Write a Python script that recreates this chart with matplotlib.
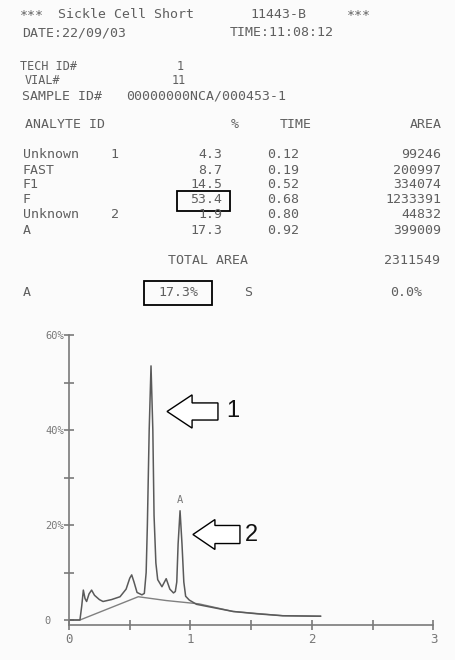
import matplotlib
matplotlib.use("Agg")
import matplotlib.pyplot as plt
from matplotlib.patches import Rectangle, FancyArrow

# ---------------- data ----------------
header_title = "*** Sickle Cell Short  11443-B ***"
run_date = "DATE:22/09/03"
run_time = "TIME:11:08:12"
tech_id = "1"
vial = "11"
sample_id = "00000000NCA/000453-1"

analyte_ids = ["Unknown    1", "FAST", "F1", "F", "Unknown    2", "A"]
pct_values = ["4.3", "8.7", "14.5", "53.4", "1.9", "17.3"]
time_values = ["0.12", "0.19", "0.52", "0.68", "0.80", "0.92"]
area_values = ["99246", "200997", "334074", "1233391", "44832", "399009"]
total_area = "2311549"
a_pct = "17.3%"
s_pct = "0.0%"

# chromatogram trace (retention time in min, % of full scale)
trace_time = [0.00, 0.09, 0.105, 0.118, 0.132, 0.145, 0.165, 0.186, 0.21, 0.25,
              0.28, 0.35, 0.42, 0.47, 0.50, 0.516, 0.535, 0.56, 0.60, 0.62,
              0.635, 0.645, 0.66, 0.675, 0.69, 0.70, 0.715, 0.73, 0.765, 0.80,
              0.83, 0.86, 0.875, 0.887, 0.898, 0.914, 0.93, 0.945, 0.96, 0.99,
              1.05, 1.15, 1.35, 1.55, 1.76, 2.07]
trace_pct = [0.0, 0.0, 3.0, 6.3, 4.5, 3.9, 5.5, 6.3, 5.2, 4.3,
             3.9, 4.3, 4.9, 6.5, 8.8, 9.5, 8.0, 5.8, 5.3, 5.6,
             10.0, 20.0, 40.0, 53.5, 40.0, 22.0, 12.0, 8.5, 7.0, 8.7,
             6.5, 5.7, 6.0, 8.0, 16.0, 23.0, 16.0, 8.0, 5.0, 4.2,
             3.3, 2.8, 1.8, 1.3, 0.9, 0.8]
# integration baseline
base_time = [0.00, 0.09, 0.57, 0.80, 1.07, 1.35, 1.76, 2.07]
base_pct = [0.0, 0.0, 4.9, 4.1, 3.4, 1.8, 0.9, 0.8]

ytick_major = [0, 20, 40, 60]
ytick_labels = ["0  ", "20%", "40%", "60%"]
ytick_minor = [10, 30, 50]
xtick_major = [0, 1, 2, 3]
xtick_labels = ["0", "1", "2", "3"]
xtick_minor = [0.5, 1.5, 2.5]

# ---------------- figure ----------------
W, H = 456, 660
fig = plt.figure(figsize=(W / 100, H / 100), dpi=100)
fig.patch.set_facecolor("#fbfbfb")

MONO = "DejaVu Sans Mono"
TXT = "#5f5f5f"
FS = 9.5


def T(x, y, s, ha="left", fs=FS, color=TXT):
    fig.text(x / W, 1 - y / H, s, ha=ha, va="center", family=MONO,
             fontsize=fs, color=color)


T(20, 15, "***")
T(58, 15, "Sickle Cell Short")
T(250, 15, "11443-B")
T(347, 15, "***")
T(22, 33, run_date)
T(230, 33, run_time)

T(20, 66, "TECH ID#", fs=8.5)
T(180, 66, tech_id, ha="center", fs=8.5)
T(25, 81, "VIAL#", fs=8.5)
T(179, 81, vial, ha="center", fs=8.5)
T(22, 96, "SAMPLE ID#")
T(126, 96, sample_id)

T(25, 125, "ANALYTE ID")
T(235, 125, "%", ha="center")
T(296, 125, "TIME", ha="center")
T(442, 125, "AREA", ha="right")

row_y = [155, 170, 185, 200, 215, 230]
for yy, name, p, t, a in zip(row_y, analyte_ids, pct_values, time_values, area_values):
    T(23, yy, name)
    T(222, yy, p, ha="right")
    T(283, yy, t, ha="center")
    T(441, yy, a, ha="right")

T(208, 260, "TOTAL AREA", ha="center")
T(440, 260, total_area, ha="right")

T(23, 293, "A")
T(178, 293, a_pct, ha="center")
T(248, 293, "S", ha="center")
T(422, 293, s_pct, ha="right")

fig.add_artist(Rectangle((177 / W, 1 - 211 / H), 53 / W, 20 / H,
                         transform=fig.transFigure, fill=False,
                         ec="black", lw=1.3))
fig.add_artist(Rectangle((144 / W, 1 - 305 / H), 68 / W, 24 / H,
                         transform=fig.transFigure, fill=False,
                         ec="black", lw=1.3))

# ---------------- chromatogram ----------------
ax = fig.add_axes([69 / W, 1 - 625 / H, (433.5 - 69) / W, (625 - 335) / H])
ax.set_facecolor("none")
ax.plot(base_time, base_pct, color="#808080", lw=1.0)
ax.plot(trace_time, trace_pct, color="#5a5a5a", lw=1.1)
ax.text(0.915, 24.2, "A", ha="center", va="bottom", family=MONO,
        fontsize=7.5, color="#777777")

ax.set_xlim(0, 3.0)
ax.set_ylim(-1.05, 60)
for s in ["top", "right"]:
    ax.spines[s].set_visible(False)
for s in ["left", "bottom"]:
    ax.spines[s].set_color("#7a7a7a")
    ax.spines[s].set_linewidth(1.2)

ax.set_yticks(ytick_major)
ax.set_yticklabels(ytick_labels, family=MONO, fontsize=7.5, color="#777777")
ax.set_yticks(ytick_minor, minor=True)
ax.set_xticks(xtick_major)
ax.set_xticklabels(xtick_labels, family=MONO, fontsize=9, color="#777777")
ax.set_xticks(xtick_minor, minor=True)
ax.tick_params(which="both", direction="inout", length=7, width=1.2,
               color="#7a7a7a")
ax.tick_params(axis="y", pad=0)
ax.tick_params(axis="x", pad=2)

# annotation arrows
for x0, x1, yy, hl, hw, sw, lab, lx in [
        (1.226, 0.807, 43.9, 0.206, 7.0, 3.6, "1", 1.346),
        (1.407, 1.020, 18.0, 0.181, 6.3, 3.8, "2", 1.500)]:
    ax.add_patch(FancyArrow(x0, yy, x1 - x0, 0, width=sw, head_width=hw,
                            head_length=hl, length_includes_head=True,
                            fc="white", ec="black", lw=1.0, zorder=5))
    ax.text(lx, yy, lab, ha="center", va="center", family="Liberation Sans",
            fontsize=17, color="#111111")

fig.savefig("out.png", dpi=100, facecolor=fig.get_facecolor())
